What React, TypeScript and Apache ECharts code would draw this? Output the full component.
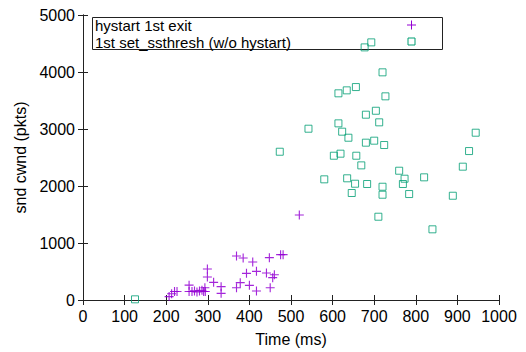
import React, { useEffect, useRef } from "react";
import * as echarts from "echarts";

const xTicks = [0, 100, 200, 300, 400, 500, 600, 700, 800, 900, 1000];
const yTicks = [0, 1000, 2000, 3000, 4000, 5000];

const hystartTime = [207, 213, 220, 226, 255, 255, 262, 268, 274, 280, 286, 290, 293, 294, 299, 299, 314, 332, 332, 369, 369, 378, 385, 393, 400, 408, 417, 417, 441, 448, 450, 456, 460, 475, 481, 520];
const hystartCwnd = [60, 110, 150, 150, 260, 150, 150, 160, 140, 160, 170, 150, 216, 150, 544, 403, 310, 234, 117, 772, 216, 304, 737, 468, 257, 667, 503, 158, 473, 743, 216, 392, 444, 795, 795, 1491];

const ssthreshTime = [125, 473, 542, 580, 603, 614, 614, 619, 623, 634, 635, 638, 646, 654, 656, 657, 669, 677, 680, 680, 683, 693, 700, 704, 710, 712, 720, 720, 720, 724, 727, 760, 769, 773, 784, 820, 840, 889, 913, 928, 944];
const ssthreshCwnd = [12, 2601, 3005, 2117, 2531, 3626, 3099, 2567, 2953, 3678, 2135, 2847, 1877, 2040, 3736, 2531, 2362, 4432, 3251, 2760, 2035, 4520, 2795, 3320, 1461, 3117, 3994, 1987, 1847, 2719, 3573, 2268, 2035, 2128, 1859, 2152, 1240, 1829, 2339, 2613, 2935];

const seriesNames = ["hystart 1st exit", "1st set_ssthresh (w/o hystart)"];

const PURPLE = "#9400d3";
const GREEN = "#009e73";
const FONT = "Liberation Sans, Arial, sans-serif";
const CROSS = "path://M0,3.5H8V4.5H0Z M3.5,0H4.5V8H3.5Z";

export default function App() {
  const ref = useRef<HTMLDivElement>(null);
  useEffect(() => {
    if (!ref.current) return;
    const chart = echarts.init(ref.current, undefined, { renderer: "svg" });
    const axisLine = { show: true, lineStyle: { color: "#222", width: 1 } };
    const axisTick = { show: true, inside: true, length: 5, lineStyle: { color: "#222" } };
    const fmt = (v: number) => String(v);
    chart.setOption({
      animation: false,
      textStyle: { fontFamily: FONT },
      grid: { left: 83, right: 27, top: 15, bottom: 52 },
      xAxis: [
        {
          type: "value", min: xTicks[0], max: xTicks[xTicks.length - 1], interval: 100,
          position: "bottom", axisLine, axisTick, splitLine: { show: false },
          axisLabel: { color: "#000", fontSize: 16, fontFamily: FONT, margin: 8, formatter: fmt },
          name: "Time (ms)", nameLocation: "middle", nameGap: 31,
          nameTextStyle: { color: "#000", fontSize: 16, fontFamily: FONT },
        },
        {
          type: "value", min: xTicks[0], max: xTicks[xTicks.length - 1], interval: 100,
          position: "top", axisLine, axisTick, splitLine: { show: false }, axisLabel: { show: false },
        },
      ],
      yAxis: [
        {
          type: "value", min: yTicks[0], max: yTicks[yTicks.length - 1], interval: 1000,
          position: "left", axisLine, axisTick, splitLine: { show: false },
          axisLabel: { color: "#000", fontSize: 16, fontFamily: FONT, margin: 8, formatter: fmt },
          name: "snd cwnd (pkts)", nameLocation: "middle", nameGap: 47,
          nameTextStyle: { color: "#000", fontSize: 16, fontFamily: FONT },
        },
        {
          type: "value", min: yTicks[0], max: yTicks[yTicks.length - 1], interval: 1000,
          position: "right", axisLine, axisTick, splitLine: { show: false }, axisLabel: { show: false },
        },
      ],
      graphic: [
        { type: "rect", shape: { x: 92.5, y: 17.5, width: 350, height: 32 }, style: { fill: "none", stroke: "#222", lineWidth: 1 }, z: 1 },
        { type: "text", x: 95, y: 25, style: { text: seriesNames[0], fill: "#000", font: "15px " + FONT, verticalAlign: "middle" }, z: 11 },
        { type: "text", x: 95, y: 42, style: { text: seriesNames[1], fill: "#000", font: "15px " + FONT, verticalAlign: "middle" }, z: 11 },
        { type: "line", shape: { x1: 407, y1: 25, x2: 416, y2: 25 }, style: { stroke: PURPLE, lineWidth: 1 }, z: 11 },
        { type: "line", shape: { x1: 411.5, y1: 20.5, x2: 411.5, y2: 29.5 }, style: { stroke: PURPLE, lineWidth: 1 }, z: 11 },
        { type: "rect", shape: { x: 408, y: 38, width: 7, height: 7 }, style: { fill: "none", stroke: GREEN, lineWidth: 1 }, z: 11 },
      ],
      series: [
        {
          name: seriesNames[0], type: "scatter", symbol: CROSS, symbolSize: 9,
          itemStyle: { color: PURPLE, opacity: 0.85 },
          data: hystartTime.map((t, i) => [t, hystartCwnd[i]]),
        },
        {
          name: seriesNames[1], type: "scatter", symbol: "rect", symbolSize: 7,
          itemStyle: { color: "rgba(0,0,0,0)", borderColor: GREEN, borderWidth: 1, opacity: 0.8 },
          data: ssthreshTime.map((t, i) => [t, ssthreshCwnd[i]]),
        },
      ],
    });
    return () => chart.dispose();
  }, []);
  return <div ref={ref} style={{ width: 526, height: 352, position: "absolute", left: 0, top: 0, background: "#fff" }} />;
}
